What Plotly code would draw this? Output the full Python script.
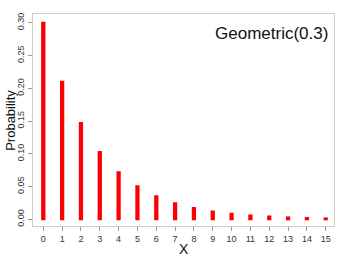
import plotly.graph_objects as go

x_vals = list(range(16))
probs = [0.3, 0.21, 0.147, 0.1029, 0.0720, 0.0504, 0.0353, 0.0247,
         0.0173, 0.0121, 0.0085, 0.0059, 0.0042, 0.0029, 0.0020, 0.0014]
y_ticks = [0.00, 0.05, 0.10, 0.15, 0.20, 0.25, 0.30]
y_tick_labels = ["0.00", "0.05", "0.10", "0.15", "0.20", "0.25", "0.30"]
title_text = "Geometric(0.3)"

FONT = "Liberation Sans, Arial, Helvetica, sans-serif"

fig = go.Figure()
fig.add_trace(go.Bar(
    x=x_vals, y=probs, width=0.12,
    marker=dict(color="#ff0000", line=dict(color="#ff0000", width=2)),
    showlegend=False,
))

fig.update_layout(
    width=338, height=258,
    margin=dict(l=33, r=4, t=14, b=32),
    paper_bgcolor="white", plot_bgcolor="white",
    font=dict(family=FONT, size=9, color="#333333"),
    xaxis=dict(
        range=[-0.547, 15.44], tickmode="array", tickvals=x_vals,
        ticktext=[str(v) for v in x_vals],
        showgrid=False, zeroline=False,
        showline=True, linecolor="#cccccc", linewidth=1, mirror=True,
        ticks="outside", ticklen=4, tickcolor="#999999",
        tickfont=dict(size=9, color="#333333"),
    ),
    yaxis=dict(
        range=[-0.0102, 0.3133], tickmode="array", tickvals=y_ticks,
        ticktext=y_tick_labels, tickangle=-90,
        showgrid=False, zeroline=False,
        showline=True, linecolor="#cccccc", linewidth=1, mirror=True,
        ticks="outside", ticklen=4, tickcolor="#999999",
        tickfont=dict(size=9, color="#333333"),
    ),
    annotations=[
        dict(text=title_text, xref="paper", yref="paper", x=0.987, y=0.906,
             xanchor="right", yanchor="middle", showarrow=False,
             font=dict(family=FONT, size=17, color="#111111")),
        dict(text="X", xref="paper", yref="paper", x=0.5, y=-0.062,
             xanchor="center", yanchor="top", showarrow=False,
             font=dict(family=FONT, size=14, color="#111111")),
        dict(text="Probability", xref="paper", yref="paper", x=-0.077, y=0.5,
             xanchor="center", yanchor="middle", textangle=-90, showarrow=False,
             font=dict(family=FONT, size=13, color="#111111")),
    ],
)

fig.write_html("out.html")
